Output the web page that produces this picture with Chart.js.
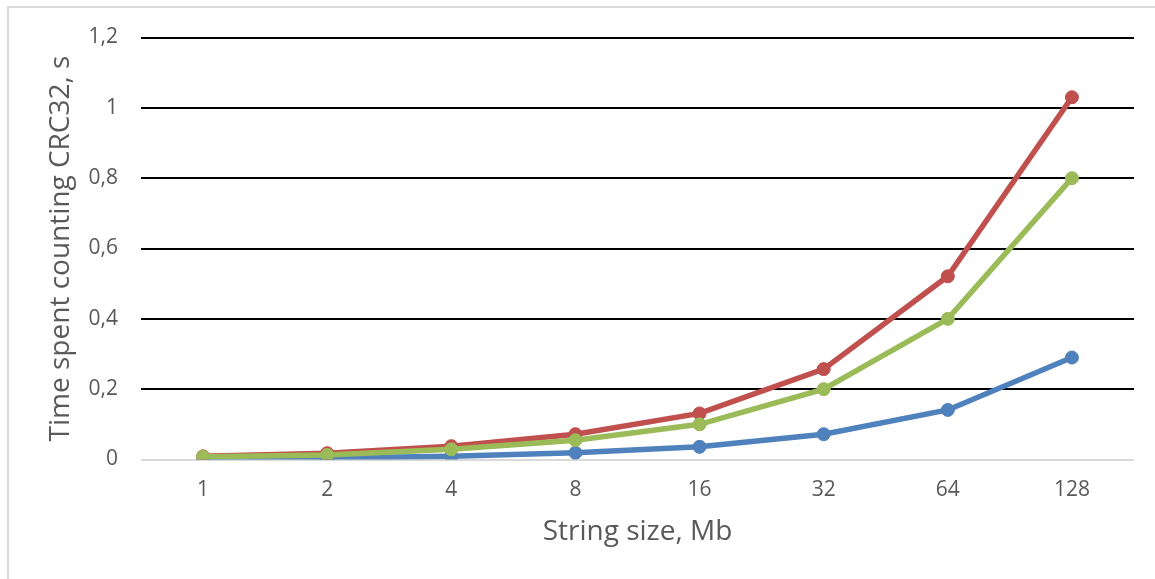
<!DOCTYPE html>
<html>
<head>
<meta charset="utf-8">
<script src="https://cdn.jsdelivr.net/npm/chart.js@4/dist/chart.umd.min.js"></script>
<style>
  html, body { margin: 0; padding: 0; background: #ffffff; }
  #wrap { position: relative; width: 1155px; height: 579px; }
</style>
</head>
<body>
<div id="wrap"><canvas id="c" width="1155" height="579"></canvas></div>
<script>
const categories = ["1", "2", "4", "8", "16", "32", "64", "128"];
const redSeries   = [0.009, 0.018, 0.038, 0.072, 0.131, 0.257, 0.521, 1.03];
const greenSeries = [0.008, 0.013, 0.029, 0.055, 0.100, 0.200, 0.400, 0.80];
const blueSeries  = [0.002, 0.004, 0.009, 0.019, 0.036, 0.072, 0.141, 0.29];
const yTickValues = [0, 0.2, 0.4, 0.6, 0.8, 1, 1.2];
const xTitle = "String size, Mb";
const yTitle = "Time spent counting CRC32, s";

const FONT = "'Open Sans', sans-serif";
const TEXT = "#595959";

const borderPlugin = {
  id: 'outerBorder',
  beforeDraw(chart) {
    const ctx = chart.ctx;
    ctx.save();
    ctx.fillStyle = '#ffffff';
    ctx.fillRect(0, 0, chart.width, chart.height);
    ctx.strokeStyle = '#d9d9d9';
    ctx.lineWidth = 2;
    ctx.beginPath();
    ctx.moveTo(8, chart.height + 2);
    ctx.lineTo(8, 7);
    ctx.lineTo(chart.width + 2, 7);
    ctx.stroke();
    ctx.restore();
  }
};

function ds(label, data, color) {
  return {
    label, data,
    borderColor: color,
    backgroundColor: color,
    pointBackgroundColor: color,
    pointBorderColor: color,
    borderWidth: 5.5,
    pointRadius: 6.5,
    pointBorderWidth: 1,
    pointHoverRadius: 6.5,
    tension: 0,
    fill: false
  };
}

new Chart(document.getElementById('c'), {
  type: 'line',
  data: {
    labels: categories,
    datasets: [
      ds('Green', greenSeries, '#9BBB59'),
      ds('Red', redSeries, '#C0504D'),
      ds('Blue', blueSeries, '#4F81BD')
    ]
  },
  options: {
    responsive: false,
    animation: false,
    devicePixelRatio: 1,
    layout: { padding: { top: 37.5, right: 21, left: 0, bottom: 0 } },
    plugins: { legend: { display: false }, tooltip: { enabled: false } },
    scales: {
      x: {
        offset: true,
        grid: { display: false, drawTicks: false },
        border: { display: false },
        ticks: { color: TEXT, font: { family: FONT, size: 21 }, padding: 18, maxRotation: 0 },
        title: { display: true, text: xTitle, color: TEXT, font: { family: FONT, size: 28 }, padding: { top: 0, bottom: 30 } },
        afterFit(s) { s.height = 119.5; }
      },
      y: {
        min: 0, max: 1.2,
        afterBuildTicks(s) { s.ticks = yTickValues.map(v => ({ value: v })); },
        grid: {
          drawTicks: false,
          color: (c) => c.tick && c.tick.value === 0 ? '#d9d9d9' : '#000000',
          lineWidth: 2
        },
        border: { display: false },
        ticks: {
          color: TEXT, font: { family: FONT, size: 21 }, padding: 23,
          callback: (v) => String(Math.round(v * 10) / 10).replace('.', ',')
        },
        title: { display: true, text: yTitle, color: TEXT, font: { family: FONT, size: 28 }, padding: { top: 44.5, bottom: 0 } },
        afterFit(s) { s.width = 141; }
      }
    }
  },
  plugins: [borderPlugin]
});
</script>
</body>
</html>
